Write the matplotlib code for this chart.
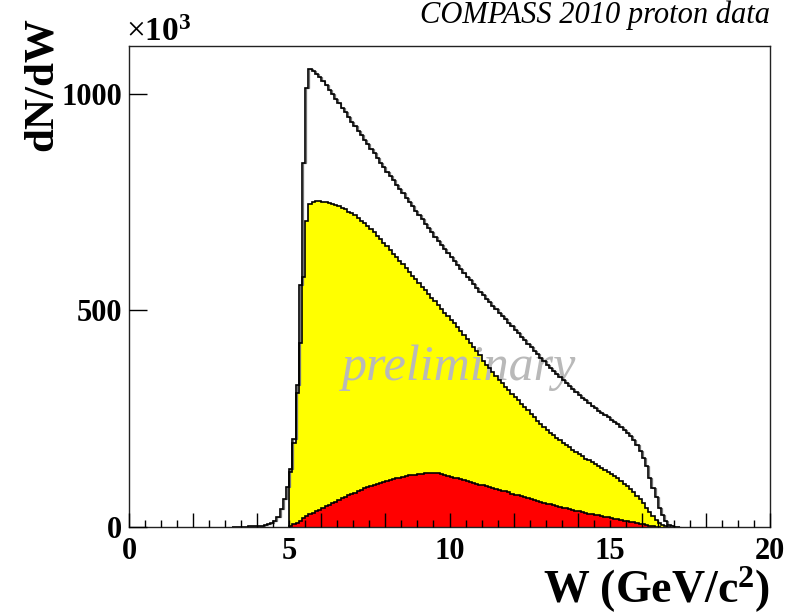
import numpy as np
import matplotlib
matplotlib.use("Agg")
import matplotlib.pyplot as plt

plt.rcParams["font.family"] = ["Liberation Serif", "DejaVu Serif"]
plt.rcParams["mathtext.fontset"] = "custom"
plt.rcParams["mathtext.rm"] = "Liberation Serif"
plt.rcParams["mathtext.it"] = "Liberation Serif:italic"
plt.rcParams["mathtext.bf"] = "Liberation Serif:bold"

# histograms in units of 10^3 entries, bin width 0.1 in W
bin_width = 0.1

# all events (white), first bin starts at W = 3.2
all_start = 3.2
all_counts = [
    0.3, 0.4, 0.6, 0.8, 1.0, 1.3, 1.6, 2.0, 2.5, 3.2,            # 3.2 - 4.1
    4.2, 6, 9, 15, 23, 42, 65, 92, 135, 202,                     # 4.2 - 5.1
    328, 558, 840, 1012, 1056, 1053, 1046, 1038, 1029, 1019,     # 5.2 - 6.1
    1009, 999, 988, 978, 967, 957, 946, 935, 925, 914,           # 6.2 - 7.1
    904, 893, 883, 872, 862, 851, 841, 830, 820, 810,            # 7.2 - 8.1
    800, 790, 780, 770, 760, 750, 740, 730, 720, 710,            # 8.2 - 9.1
    700, 690, 680, 670, 661, 651, 642, 632, 623, 614,            # 9.2 - 10.1
    605, 596, 587, 578, 569, 560, 552, 543, 535, 527,            # 10.2 - 11.1
    519, 511, 503, 495, 487, 479, 471, 463, 455, 447,            # 11.2 - 12.1
    439, 431, 423, 415, 407, 399, 391, 383, 374, 367,            # 12.2 - 13.1
    360, 353, 346, 339, 332, 325, 318, 311, 305, 298,            # 13.2 - 14.1
    292, 286, 280, 274, 268, 263, 258, 253, 248, 243,            # 14.2 - 15.1
    237, 231, 224, 217, 209, 200, 189, 176, 160, 140,            # 15.2 - 16.1
    112, 90, 70, 45, 28, 13, 5, 2, 0.8, 0.3,                     # 16.2 - 17.1
]

# selected events (yellow), first bin starts at W = 5.0
sel_start = 5.0
sel_counts = [
    128, 195, 310, 425, 578, 706, 745, 750, 752, 752,            # 5.0 - 5.9
    751, 750, 748, 746, 743, 740, 737, 733, 728, 724,            # 6.0 - 6.9
    719, 713, 707, 701, 694, 687, 680, 672, 664, 656,            # 7.0 - 7.9
    648, 640, 631, 623, 614, 606, 597, 589, 580, 572,            # 8.0 - 8.9
    563, 555, 546, 538, 529, 521, 512, 504, 495, 487,            # 9.0 - 9.9
    478, 470, 461, 452, 443, 434, 425, 416, 407, 398,            # 10.0 - 10.9
    383, 374, 366, 357, 349, 340, 332, 324, 316, 308,            # 11.0 - 11.9
    300, 292, 285, 277, 270, 260, 253, 245, 238, 231,            # 12.0 - 12.9
    224, 218, 212, 206, 200, 194, 189, 184, 178, 173,            # 13.0 - 13.9
    168, 163, 158, 154, 149, 145, 140, 136, 131, 127,            # 14.0 - 14.9
    122, 117, 112, 106, 100, 94, 87, 80, 72, 64,                 # 15.0 - 15.9
    55, 45, 35, 25, 16, 9, 4, 1.5, 0.5,                          # 16.0 - 16.8
]

# sub-sample (red), first bin starts at W = 5.0
red_start = 5.0
red_counts = [
    3, 6, 10, 14, 20, 25, 29, 33, 37, 40,                        # 5.0 - 5.9
    44, 48, 51, 55, 58, 62, 66, 69, 73, 76,                      # 6.0 - 6.9
    79, 82, 86, 89, 92, 94, 97, 100, 102, 104,                   # 7.0 - 7.9
    106, 108, 110, 112, 114, 116, 117, 119, 120, 121,            # 8.0 - 8.9
    122, 123, 124, 125, 125, 125, 124, 122, 120, 118,            # 9.0 - 9.9
    116, 114, 112, 110, 108, 106, 104, 102, 100, 98,             # 10.0 - 10.9
    96, 94, 92, 90, 88, 86, 84, 82, 80, 77,                      # 11.0 - 11.9
    75, 73, 71, 69, 67, 65, 62, 60, 58, 56,                      # 12.0 - 12.9
    54, 52, 50, 48, 46, 45, 43, 41, 39, 38,                      # 13.0 - 13.9
    36, 34, 33, 31, 30, 28, 27, 25, 24, 22,                      # 14.0 - 14.9
    21, 19, 18, 16, 15, 14, 12, 11, 9, 8,                        # 15.0 - 15.9
    6, 5, 3, 2, 1, 0.5,                                          # 16.0 - 16.5
]

x_labels = [0, 5, 10, 15, 20]
y_ticks = [0, 500, 1000]


def edges(start, counts):
    return start + bin_width * np.arange(len(counts) + 1)


all_edges = edges(all_start, all_counts)
sel_edges = edges(sel_start, sel_counts)
red_edges = edges(red_start, red_counts)

fig = plt.figure(figsize=(7.96, 6.15), dpi=100)
ax = fig.add_axes([129 / 796, 88 / 615, 641 / 796, 481 / 615])

ax.stairs(sel_counts, sel_edges, fill=True, color="#ffff00", zorder=1)
ax.stairs(red_counts, red_edges, fill=True, color="#ff0000", zorder=1.1)

ax.stairs(all_counts, all_edges + 0.03, color="0.45", lw=0.9, zorder=1.9)
ax.stairs(all_counts, all_edges, color="black", lw=1.2, zorder=2)
ax.stairs(sel_counts, sel_edges, color="black", lw=1.2, zorder=2)
ax.stairs(red_counts, red_edges, color="black", lw=1.2, zorder=2)

ax.text(10.3, 367, "preliminary", fontsize=36, style="italic",
        color="#b9b9b9", ha="center", va="center", zorder=1.5)

ax.set_xlim(0, 20)
ax.set_ylim(0, 1110)
ax.set_axisbelow(False)

# ticks: long every 2, short every 0.5, labels every 5
ax.set_xticks(np.arange(0, 20.1, 2))
ax.set_xticklabels([])
ax.set_xticks(np.arange(0, 20.1, 0.5), minor=True)
ax.tick_params(axis="x", which="major", direction="in", length=10, width=1,
               top=False)
ax.tick_params(axis="x", which="minor", direction="in", length=5, width=1,
               top=False)
for xl in x_labels:
    ax.text(xl, -0.02, str(xl), transform=ax.get_xaxis_transform(),
            ha="center", va="top", fontsize=22, fontweight="bold")

ax.set_yticks(y_ticks)
ax.set_yticklabels([str(v) for v in y_ticks], fontsize=22, fontweight="bold")
ax.tick_params(axis="y", which="major", direction="in", length=13, width=1,
               pad=5, right=False)
ax.tick_params(axis="y", which="minor", left=False, right=False)

for s in ax.spines.values():
    s.set_linewidth(1.0)
    s.set_color("#222222")

fig.text(770 / 796, 1 - 23 / 615, "COMPASS 2010 proton data", fontsize=22,
         style="italic", ha="right", va="baseline")
fig.text(126 / 796, 1 - 41 / 615, r"$\times\mathbf{10}^{\mathbf{3}}$",
         fontsize=24, ha="left", va="baseline")
fig.text(42 / 796, 1 - 84 / 615, "dN/dW", fontsize=31, fontweight="bold",
         rotation=90, ha="center", va="center")
fig.text(770 / 796, 1 - 603 / 615, r"$\mathbf{W\ (GeV/c^{2})}$", fontsize=33,
         ha="right", va="baseline")

fig.savefig("out.png", dpi=100)
